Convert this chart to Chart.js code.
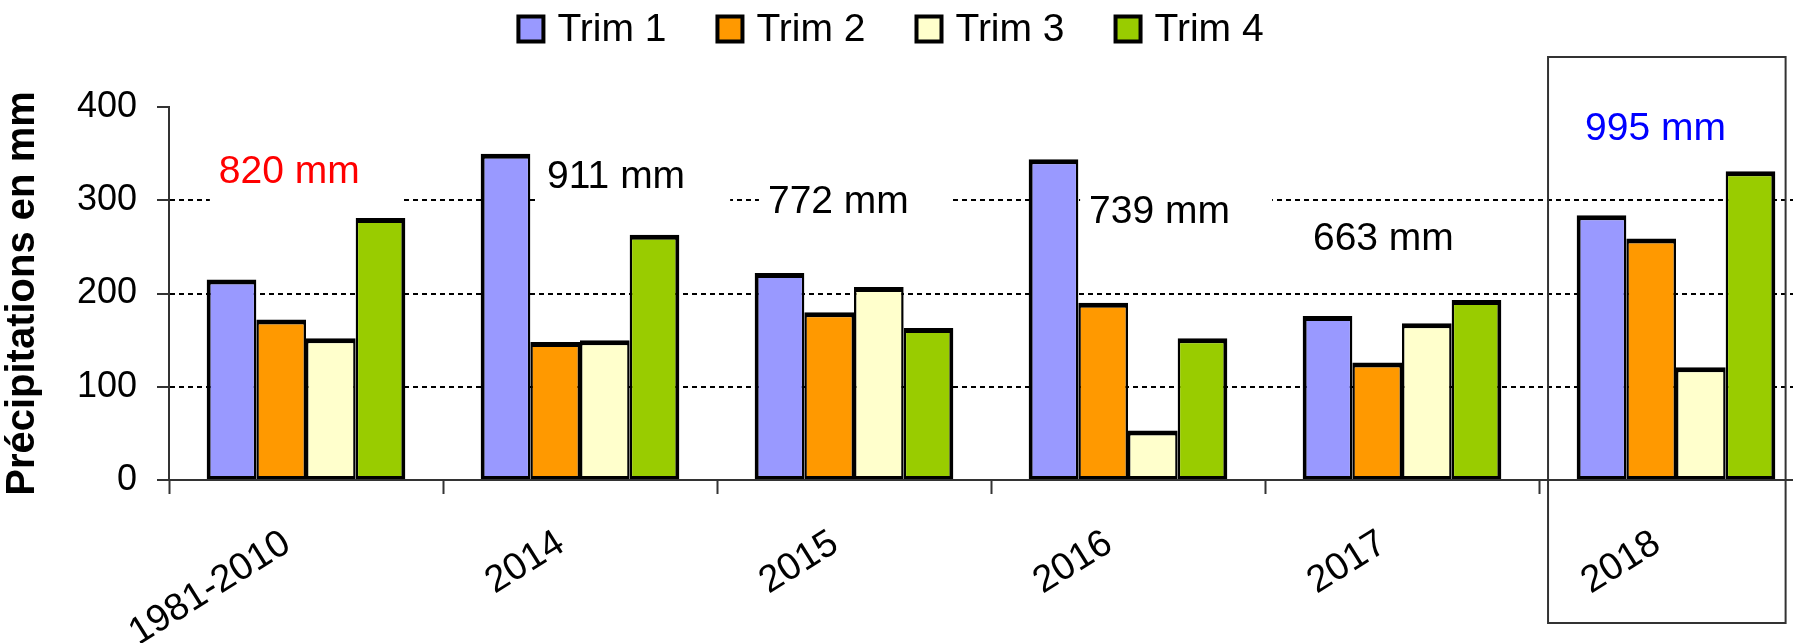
<!DOCTYPE html>
<html>
<head>
<meta charset="utf-8">
<script src="https://cdn.jsdelivr.net/npm/chart.js@4/dist/chart.umd.min.js"></script>
<style>
	html, body { margin: 0; padding: 0; background: #fff; overflow: hidden; }
	#wrap { position: relative; width: 1793px; height: 643px; overflow: hidden; }
	#wrap canvas { position: absolute; left: -31px; top: 0; }
</style>
</head>
<body>
<div id="wrap"><canvas id="myChart" width="1844" height="643"></canvas></div>
<script>
// data (mm per quarter)
var categories = ['1981-2010', '2014', '2015', '2016', '2017', '2018'];
var trim1 = [215, 350, 222, 344, 176, 284];
var trim2 = [172, 148, 180, 190, 126, 259];
var trim3 = [152, 150, 207, 53, 168, 121];
var trim4 = [281, 263, 163, 152, 193, 331];
var totals = ['820 mm', '911 mm', '772 mm', '739 mm', '663 mm', '995 mm'];
var yTicks = [0, 100, 200, 300, 400];

var FONT = '"Liberation Sans", Arial, sans-serif';

// where the total labels sit: fraction across the category, height in mm
var totalX = [0.182, 0.380, 0.186, 0.358, 0.175, 0.168];
var totalY = [330, 325, 298, 287, 258, 376];
var totalColors = ['#FF0000', '#000', '#000', '#000', '#000', '#0000FF'];
var boxedCategory = 5;

var extras = {
	id: 'extras',
	beforeDatasetsDraw: function (chart) {
		var ctx = chart.ctx, x = chart.scales.x, y = chart.scales.y;
		ctx.save();
		ctx.font = '39px ' + FONT;
		ctx.textBaseline = 'middle';
		ctx.textAlign = 'left';
		totals.forEach(function (t, i) {
			var px = x.getPixelForValue(i - 0.5 + totalX[i]);
			var py = y.getPixelForValue(totalY[i]);
			// white text box hides the grid behind it
			ctx.fillStyle = '#fff';
			ctx.fillRect(px - 9, py - 32, 192, 64);
			ctx.fillStyle = totalColors[i];
			ctx.fillText(t, px, py);
		});
		ctx.restore();
	},
	afterDraw: function (chart) {
		var ctx = chart.ctx, x = chart.scales.x;
		ctx.save();
		// frame around the last year
		var l = x.getPixelForValue(boxedCategory - 0.5 + 0.033);
		var r = x.getPixelForValue(boxedCategory - 0.5 + 0.9);
		ctx.strokeStyle = '#333';
		ctx.lineWidth = 2;
		ctx.strokeRect(l, 57, r - l, 566);

		// legend
		var ds = chart.data.datasets;
		var box = 25, gap = 14, space = 51;
		ctx.font = '39px ' + FONT;
		ctx.textBaseline = 'middle';
		var widths = ds.map(function (d) { return box + gap + ctx.measureText(d.label).width; });
		var total = widths.reduce(function (a, b) { return a + b; }, 0) + space * (ds.length - 1);
		var cx = chart.width / 2 - total / 2;
		var cy = 29;
		ds.forEach(function (d, i) {
			ctx.fillStyle = d.backgroundColor;
			ctx.fillRect(cx, cy - box / 2, box, box);
			ctx.strokeStyle = '#000';
			ctx.lineWidth = 4;
			ctx.strokeRect(cx, cy - box / 2, box, box);
			ctx.fillStyle = '#000';
			ctx.fillText(d.label, cx + box + gap, cy + 1);
			cx += widths[i] + space;
		});
		ctx.restore();
	}
};

function bar(label, data, color, bw) {
	return {
		label: label,
		data: data,
		backgroundColor: color,
		borderColor: '#000',
		borderWidth: bw,
		borderSkipped: false
	};
}

var ctx = document.getElementById('myChart').getContext('2d');
var chart = new Chart(ctx, {
	type: 'bar',
	data: {
		labels: categories,
		datasets: [
			bar('Trim 1', trim1, '#9999FF', {top: 5, left: 4, right: 2.5, bottom: 3}),
			bar('Trim 2', trim2, '#FF9900', {top: 5, left: 2.5, right: 2.5, bottom: 3}),
			bar('Trim 3', trim3, '#FFFFCC', {top: 5, left: 2.5, right: 2.5, bottom: 3}),
			bar('Trim 4', trim4, '#99CC00', {top: 5, left: 2.5, right: 4, bottom: 3})
		]
	},
	options: {
		responsive: false,
		animation: false,
		layout: { padding: { top: 107, left: 0, right: 0, bottom: 0 } },
		datasets: { bar: { barPercentage: 1, categoryPercentage: 0.725 } },
		plugins: {
			legend: { display: false },
			tooltip: { enabled: false }
		},
		scales: {
			x: {
				grid: { drawOnChartArea: false, drawTicks: true, tickLength: 14, tickColor: '#333', tickWidth: 2, offset: true },
				border: { color: '#333', width: 2 },
				ticks: {
					color: '#000',
					font: { family: FONT, size: 38 },
					minRotation: 32,
					maxRotation: 32,
					autoSkip: false,
					padding: 27,
					labelOffset: -19
				},
				afterFit: function (s) { s.height = 163; }
			},
			y: {
				min: 0,
				max: 400,
				afterBuildTicks: function (s) {
					s.ticks = yTicks.map(function (v) { return { value: v }; });
				},
				grid: {
					color: function (c) {
						var v = c.tick ? c.tick.value : null;
						return (v === 0 || v === 400) ? 'rgba(0,0,0,0)' : '#000';
					},
					lineWidth: 2,
					tickColor: '#333',
					tickLength: 12,
					tickWidth: 2
				},
				border: { color: '#333', width: 2, dash: [5, 4] },
				ticks: { color: '#000', font: { family: FONT, size: 36 }, padding: 20 },
				title: {
					display: true,
					text: 'Précipitations en mm',
					color: '#000',
					font: { family: FONT, size: 40, weight: 'bold', lineHeight: 1.2 },
					padding: { top: 30, bottom: 0 }
				},
				afterFit: function (s) { s.width = 200; }
			}
		}
	},
	plugins: [extras]
});
</script>
</body>
</html>
